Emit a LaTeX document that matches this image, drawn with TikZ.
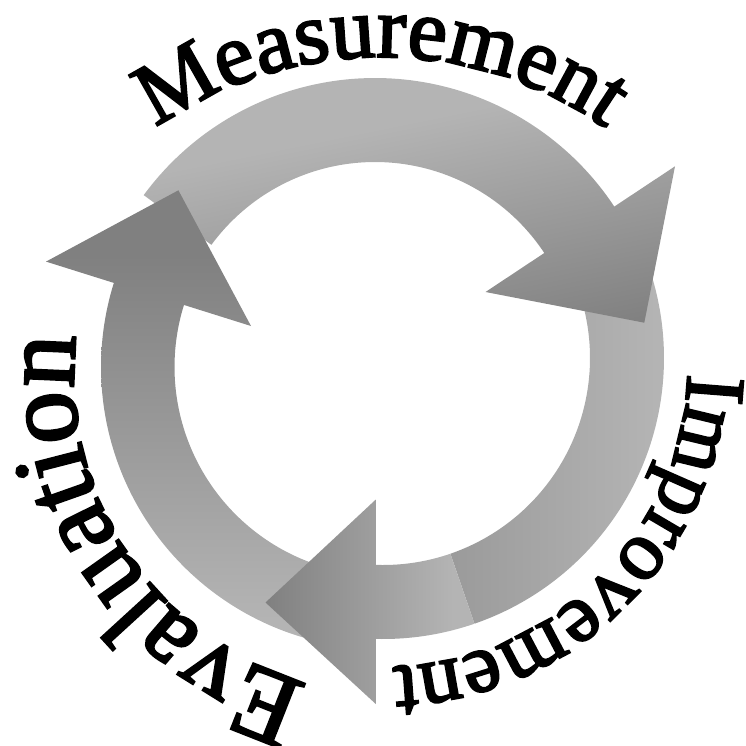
\documentclass[tikz,border=0pt]{standalone}
\usepackage{fontspec}
\setmainfont{Liberation Serif}
\newfontfamily\cyclefam{Liberation Serif}[FakeBold=2.5]
\usetikzlibrary{decorations.text}
\definecolor{lt}{RGB}{180,180,180}
\definecolor{dk}{RGB}{128,128,128}
\pgfdeclareverticalshading{ramp}{100bp}{color(0bp)=(dk); color(45bp)=(dk); color(55bp)=(lt); color(100bp)=(lt)}
\newcommand\measfont{\cyclefam\fontsize{88}{88}\selectfont}
\newcommand\imprfont{\cyclefam\fontsize{85}{85}\selectfont}
\newcommand\evalfont{\cyclefam\fontsize{105}{105}\selectfont}
% #1 clip path, #2 Mx, #3 My, #4 side, #5 shading angle
\newcommand\gradpiece[5]{%
  \begin{scope}
    \clip #1;
    \shade[shading=ramp, shading angle=#5] ({#2-#4/2},{#3-#4/2}) rectangle ({#2+#4/2},{#3+#4/2});
  \end{scope}}
\tikzset{arctext/.style={decorate, decoration={text along path, text={#1}, text align=center}}}
\begin{document}
\begin{tikzpicture}[x=1pt,y=-1pt]
\useasboundingbox (0,0) rectangle (746,745);
% ---- shafts ----
% arrow 2, part b (tail under arrow 1 head)
\gradpiece{plot[domain=-20:71,samples=80] ({383+281*cos(\x)},{358+281*sin(\x)}) -- plot[domain=71:-20,samples=80] ({383+207*cos(\x)},{358+207*sin(\x)}) -- cycle}{445.7}{500}{2110}{-90}
% arrow 2, part a
\gradpiece{plot[domain=71:92.5,samples=30] ({383+281*cos(\x)},{358+281*sin(\x)}) -- plot[domain=92.5:71,samples=30] ({383+207*cos(\x)},{358+207*sin(\x)}) -- cycle}{359}{600}{940}{-90}
% arrow 3 shaft
\gradpiece{plot[domain=100:200,samples=80] ({383+282*cos(\x)},{367+282*sin(\x)}) -- plot[domain=200:100,samples=80] ({383+208.5*cos(\x)},{367+208.5*sin(\x)}) -- cycle}{150}{437.5}{1825}{180}
% arrow 1 shaft
\gradpiece{plot[domain=216.3:329,samples=90] ({375+287*cos(\x)},{365+287*sin(\x)}) -- plot[domain=329:216.3,samples=90] ({375+203*cos(\x)},{365+203*sin(\x)}) -- cycle}{424.5}{242.5}{1225}{11.5}
% ---- heads ----
\gradpiece{(675,166.3) -- (644.3,322.7) -- (485.5,292) -- cycle}{424.5}{242.5}{1225}{11.5}
\gradpiece{(375.8,499.5) -- (265.5,602.5) -- (375.8,704) -- cycle}{359}{600}{940}{-90}
\gradpiece{(46,261.6) -- (178.4,190.3) -- (251,326) -- cycle}{150}{437.5}{1825}{180}
% ---- labels along the circle ----
\path[arctext={|\measfont|Measurement}]
  plot[domain=220:320,samples=150] ({381+390*cos(\x)},{447+390*sin(\x)});
\path[arctext={|\imprfont|Improvement}]
  plot[domain=-9.8:100.2,samples=150] ({383+305*cos(\x)},{362+305*sin(\x)});
\path[arctext={|\evalfont|Evaluation}]
  plot[domain=91.3:201.3,samples=150] ({393.3+319.4*cos(\x)},{375.5+319.4*sin(\x)});
\end{tikzpicture}
\end{document}
